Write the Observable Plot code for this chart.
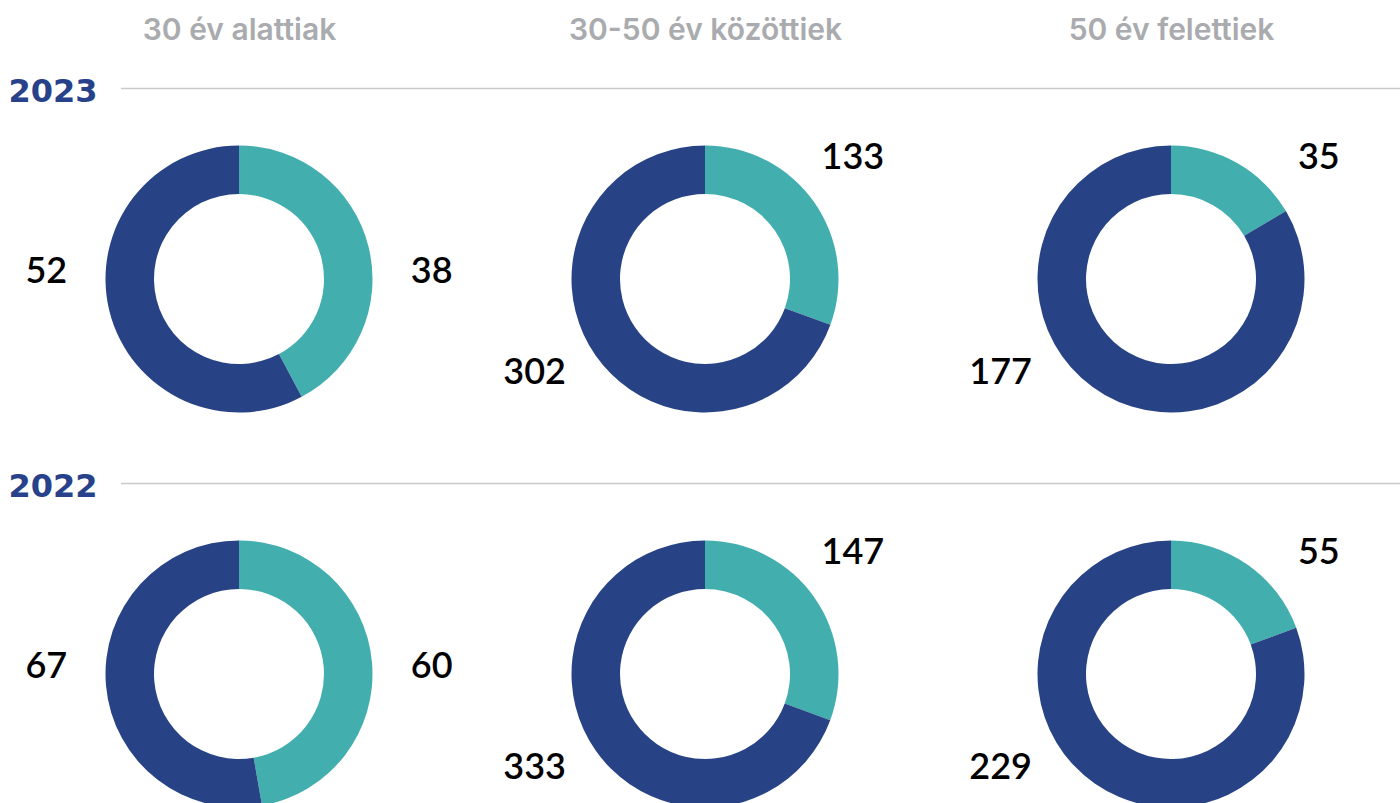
<!DOCTYPE html>
<html>
<head>
<meta charset="utf-8">
<script src="https://cdn.jsdelivr.net/npm/d3@7"></script>
<script src="https://cdn.jsdelivr.net/npm/@observablehq/plot@0.6"></script>
<style>
  html, body { margin: 0; padding: 0; background: #ffffff; }
  #chart svg { display: block; }
</style>
</head>
<body>
<div id="chart"></div>
<script>
// ---- data ----
const ageGroups = ["30 év alattiak", "30-50 év közöttiek", "50 év felettiek"];
const years = ["2023", "2022"];
const tealValues2023 = [38, 133, 35];
const navyValues2023 = [52, 302, 177];
const tealValues2022 = [60, 147, 55];
const navyValues2022 = [67, 333, 229];

// ---- styles ----
const TEAL = "#43AEAE";
const NAVY = "#274285";
const seriesColors = [TEAL, NAVY];
const OUTER_R = 133.5;
const INNER_R = 85;
const LABEL_DIST = 193;

const tealByYear = {"2023": tealValues2023, "2022": tealValues2022};
const navyByYear = {"2023": navyValues2023, "2022": navyValues2022};

const donuts = [];
for (const year of years) {
  ageGroups.forEach((age, i) => {
    donuts.push({year, age, teal: tealByYear[year][i], navy: navyByYear[year][i]});
  });
}

function donutRender(index, scales, values) {
  const g = d3.create("svg:g");
  const arc = d3.arc().innerRadius(INNER_R).outerRadius(OUTER_R);
  for (const i of index) {
    const d = donuts[i];
    const cx = values.x[i], cy = values.y[i];
    const pieData = d3.pie().sort(null)([d.teal, d.navy]);
    const gg = g.append("g").attr("transform", `translate(${cx},${cy})`);
    gg.selectAll("path")
      .data(pieData)
      .join("path")
      .attr("d", arc)
      .attr("fill", (p, j) => seriesColors[j]);
    // label placement rule derived from the share of the teal slice
    const f = d.teal / (d.teal + d.navy);
    const angles = f > 0.4 ? [87, 273] : [50, 242];
    [d.teal, d.navy].forEach((v, j) => {
      const a = angles[j] * Math.PI / 180;
      gg.append("text")
        .attr("x", LABEL_DIST * Math.sin(a))
        .attr("y", -LABEL_DIST * Math.cos(a))
        .attr("text-anchor", "middle")
        .attr("dominant-baseline", "central")
        .attr("font-family", "Lato, sans-serif")
        .attr("font-weight", 600)
        .attr("font-size", 36)
        .attr("fill", "#000000")
        .text(v);
    });
  }
  return g.node();
}

const chart = Plot.plot({
  width: 1400,
  height: 803,
  margin: 0,
  style: {background: "#ffffff"},
  x: {type: "point", domain: ageGroups, range: [239, 1171], padding: 0, axis: null},
  y: {type: "point", domain: years, range: [279, 674], padding: 0, axis: null},
  marks: [
    Plot.ruleY(years, {y: d => d, dy: -191, insetLeft: 121, stroke: "#c9cacc", strokeWidth: 1.3}),
    Plot.text(years, {
      y: d => d, frameAnchor: "left", textAnchor: "start", dx: 8, dy: -188,
      fontFamily: "DejaVu Sans", fontWeight: 800, fontSize: 32, fill: "#27418A", text: d => d
    }),
    Plot.text(ageGroups, {
      x: d => d, frameAnchor: "top", dy: 30, lineAnchor: "middle",
      fontFamily: "Inter, sans-serif", fontWeight: 600, fontSize: 30, fill: "#A9ABAE", text: d => d
    }),
    Plot.dot(donuts, {x: "age", y: "year", render: donutRender})
  ]
});
document.getElementById("chart").appendChild(chart);
</script>
</body>
</html>
